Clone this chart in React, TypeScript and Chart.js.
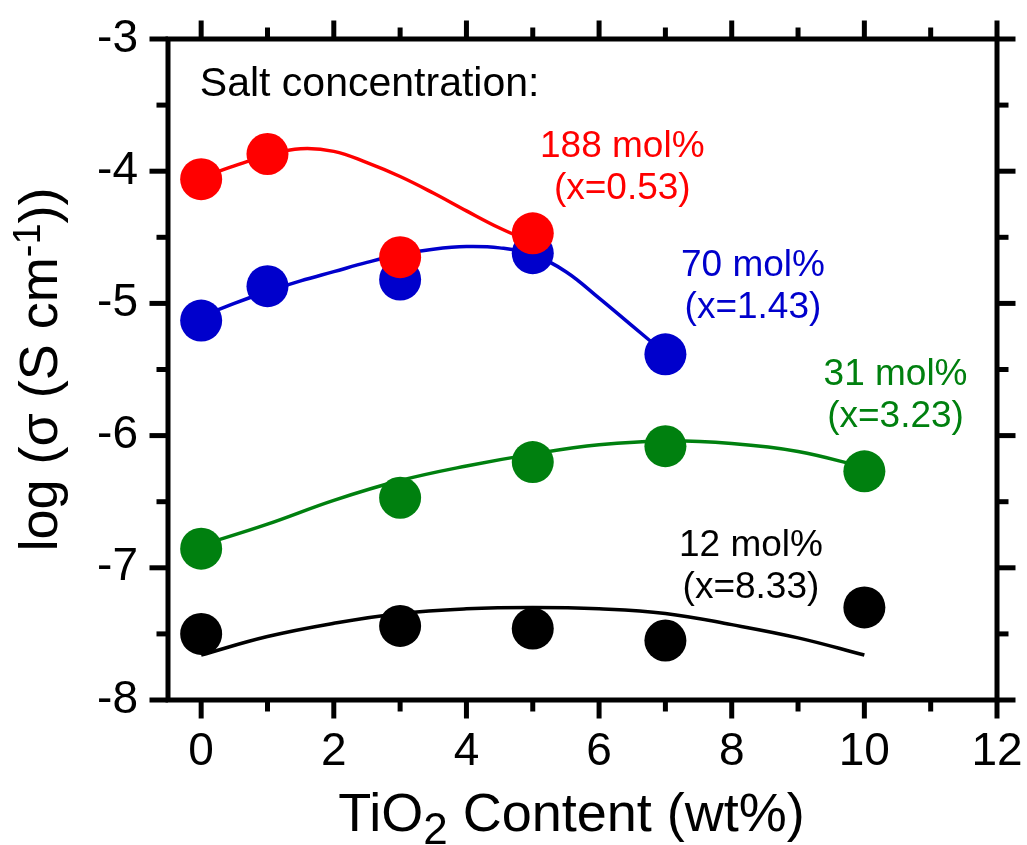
import React, { useEffect, useRef } from "react";
import { Chart, registerables } from "chart.js";

Chart.register(...registerables);

const FONT = "'Liberation Sans', Arial, Helvetica, sans-serif";

// ---- axis ticks ----
const xTickValues = [0, 2, 4, 6, 8, 10, 12];
const xMinorTicks = [1, 3, 5, 7, 9, 11];
const yTickValues = [-8, -7, -6, -5, -4, -3];
const yMinorTicks = [-7.5, -6.5, -5.5, -4.5, -3.5];

// ---- measured points: TiO2 content (wt%) vs log conductivity ----
const x188 = [0, 1, 3, 5];
const y188 = [-4.06, -3.87, -4.65, -4.47];
const x70 = [0, 1, 3, 5, 7];
const y70 = [-5.13, -4.87, -4.82, -4.62, -5.385];
const x31 = [0, 3, 5, 7, 10];
const y31 = [-6.855, -6.47, -6.2, -6.08, -6.27];
const x12 = [0, 3, 5, 7, 10];
const y12 = [-7.5, -7.44, -7.46, -7.55, -7.3];

// ---- fitted curves ----
const fit188X = [0, 0.5, 1, 1.5, 2, 2.5, 3, 3.5, 4, 4.5, 5];
const fit188Y = [-4.05, -3.96, -3.88, -3.83, -3.85, -3.935, -4.04, -4.165, -4.3, -4.43, -4.54];
const fit70X = [0, 0.5, 1, 1.5, 2, 2.5, 3, 3.5, 4, 4.5, 5, 5.5, 6, 6.5, 7];
const fit70Y = [-5.1, -5.0, -4.91, -4.83, -4.76, -4.69, -4.63, -4.59, -4.57, -4.58, -4.63, -4.76, -4.96, -5.17, -5.38];
const fit31X = [0, 1, 2, 3, 4, 5, 6, 7, 8, 9, 10];
const fit31Y = [-6.83, -6.67, -6.49, -6.34, -6.23, -6.14, -6.07, -6.04, -6.06, -6.12, -6.24];
const fit12X = [0, 1, 2, 3, 4, 5, 6, 7, 8, 9, 10];
const fit12Y = [-7.66, -7.52, -7.42, -7.345, -7.31, -7.3, -7.31, -7.345, -7.43, -7.53, -7.66];

// ---- labels ----
const seriesNames = ["188 mol%", "70 mol%", "31 mol%", "12 mol%"];
const seriesRatios = ["(x=0.53)", "(x=1.43)", "(x=3.23)", "(x=8.33)"];
const seriesColors = ["#ff0000", "#0000cc", "#00800f", "#000000"];
const headerText = "Salt concentration:";

// label anchors (data units: centre x, first-line baseline y)
const labelAnchorX = [6.35, 8.32, 10.47, 8.29];
const labelAnchorY = [-3.89, -4.79, -5.617, -6.909];
const headerAnchor = { x: -0.02, y: -3.431 };

const pts = (xs: number[], ys: number[]) => xs.map((x, i) => ({ x, y: ys[i] }));

const framePlugin = {
  id: "frameTicks",
  afterDraw(chart: any) {
    const { ctx, chartArea: a, scales } = chart;
    const xs = scales.x;
    const ys = scales.y;
    const MAJ = 18.5;
    const MIN = 11.5;
    ctx.save();
    ctx.strokeStyle = "#000";
    ctx.lineWidth = 5;
    ctx.lineCap = "butt";
    const seg = (x1: number, y1: number, x2: number, y2: number) => {
      ctx.beginPath();
      ctx.moveTo(x1, y1);
      ctx.lineTo(x2, y2);
      ctx.stroke();
    };
    const xt = (v: number, len: number) => {
      const p = xs.getPixelForValue(v);
      seg(p, a.bottom, p, a.bottom + len);
      seg(p, a.top, p, a.top - len);
    };
    const yt = (v: number, len: number) => {
      const p = ys.getPixelForValue(v);
      seg(a.left, p, a.left - len, p);
      seg(a.right, p, a.right + len, p);
    };
    xTickValues.forEach((v) => xt(v, MAJ));
    xMinorTicks.forEach((v) => xt(v, MIN));
    yTickValues.forEach((v) => yt(v, MAJ));
    yMinorTicks.forEach((v) => yt(v, MIN));
    ctx.lineJoin = "miter";
    ctx.strokeRect(a.left, a.top, a.right - a.left, a.bottom - a.top);
    ctx.restore();
  },
};

type Piece = { t: string; size: number; dy: number };

const drawPieces = (ctx: CanvasRenderingContext2D, pieces: Piece[], cx: number) => {
  let total = 0;
  const widths = pieces.map((p) => {
    ctx.font = `${p.size}px ${FONT}`;
    const w = ctx.measureText(p.t).width;
    total += w;
    return w;
  });
  let x = cx - total / 2;
  pieces.forEach((p, i) => {
    ctx.font = `${p.size}px ${FONT}`;
    ctx.fillText(p.t, x, p.dy);
    x += widths[i];
  });
};

const textPlugin = {
  id: "texts",
  afterDatasetsDraw(chart: any) {
    const { ctx, chartArea: a, scales } = chart;
    const xs = scales.x;
    const ys = scales.y;
    ctx.save();
    ctx.textBaseline = "alphabetic";

    // header
    ctx.fillStyle = "#000";
    ctx.textAlign = "left";
    ctx.font = `41px ${FONT}`;
    ctx.fillText(headerText, xs.getPixelForValue(headerAnchor.x), ys.getPixelForValue(headerAnchor.y));

    // series labels
    ctx.textAlign = "center";
    ctx.font = `37px ${FONT}`;
    seriesNames.forEach((name, i) => {
      const px = xs.getPixelForValue(labelAnchorX[i]);
      const py = ys.getPixelForValue(labelAnchorY[i]);
      ctx.fillStyle = seriesColors[i];
      ctx.fillText(name, px, py);
      ctx.fillText(seriesRatios[i], px, py + 42);
    });

    // axis titles
    ctx.fillStyle = "#000";
    ctx.textAlign = "left";
    ctx.save();
    ctx.translate(0, 831);
    drawPieces(
      ctx,
      [
        { t: "TiO", size: 54, dy: 0 },
        { t: "2", size: 44, dy: 13 },
        { t: " Content (wt%)", size: 54, dy: 0 },
      ],
      (a.left + a.right) / 2 - 11
    );
    ctx.restore();

    ctx.save();
    ctx.translate(57, (a.top + a.bottom) / 2);
    ctx.rotate(-Math.PI / 2);
    drawPieces(
      ctx,
      [
        { t: "log (σ (S cm", size: 54, dy: 0 },
        { t: "-1", size: 38, dy: -17 },
        { t: "))", size: 54, dy: 0 },
      ],
      0
    );
    ctx.restore();

    ctx.restore();
  },
};

export default function App() {
  const ref = useRef<HTMLCanvasElement>(null);

  useEffect(() => {
    document.body.style.margin = "0";
    const canvas = ref.current;
    if (!canvas) return;

    const marker = (label: string, xs: number[], ys: number[], color: string, order: number) => ({
      label,
      data: pts(xs, ys),
      backgroundColor: color,
      borderColor: color,
      pointRadius: 21,
      pointHoverRadius: 21,
      pointBorderWidth: 0,
      showLine: false,
      order,
    });
    const fit = (label: string, xs: number[], ys: number[], color: string, order: number) => ({
      label,
      data: pts(xs, ys),
      borderColor: color,
      backgroundColor: color,
      borderWidth: 3.5,
      pointRadius: 0,
      pointHoverRadius: 0,
      showLine: true,
      fill: false,
      tension: 0.4,
      order,
    });

    const chart = new Chart(canvas, {
      type: "scatter",
      data: {
        datasets: [
          marker(seriesNames[0], x188, y188, seriesColors[0], 1),
          fit(seriesNames[0] + " fit", fit188X, fit188Y, seriesColors[0], 2),
          marker(seriesNames[1], x70, y70, seriesColors[1], 3),
          fit(seriesNames[1] + " fit", fit70X, fit70Y, seriesColors[1], 4),
          marker(seriesNames[2], x31, y31, seriesColors[2], 5),
          fit(seriesNames[2] + " fit", fit31X, fit31Y, seriesColors[2], 6),
          marker(seriesNames[3], x12, y12, seriesColors[3], 7),
          fit(seriesNames[3] + " fit", fit12X, fit12Y, seriesColors[3], 8),
        ] as any,
      },
      options: {
        responsive: false,
        animation: false,
        events: [],
        devicePixelRatio: 1,
        layout: { padding: { top: 39, right: 30, left: 0, bottom: 0 } },
        plugins: {
          legend: { display: false },
          tooltip: { enabled: false },
          title: { display: false },
        },
        scales: {
          x: {
            type: "linear",
            position: "bottom",
            min: -0.5,
            max: 12,
            afterBuildTicks: (s: any) => {
              s.ticks = xTickValues.map((value) => ({ value }));
            },
            afterFit: (s: any) => {
              s.height = 145;
            },
            grid: { display: false, drawTicks: true, tickLength: 22 },
            border: { display: false },
            ticks: {
              padding: 3,
              color: "#000",
              maxRotation: 0,
              autoSkip: false,
              font: { family: FONT, size: 46 },
              callback: (v: any) => String(v),
            },
          },
          y: {
            type: "linear",
            position: "left",
            min: -8,
            max: -3,
            afterBuildTicks: (s: any) => {
              s.ticks = yTickValues.map((value) => ({ value }));
            },
            afterFit: (s: any) => {
              s.width = 168;
            },
            grid: { display: false, drawTicks: true, tickLength: 27 },
            border: { display: false },
            ticks: {
              padding: 3,
              color: "#000",
              autoSkip: false,
              font: { family: FONT, size: 46 },
              callback: (v: any) => String(v),
            },
          },
        },
      } as any,
      plugins: [textPlugin, framePlugin],
    });

    return () => chart.destroy();
  }, []);

  return (
    <div style={{ position: "absolute", left: 0, top: 0, width: 1027, height: 845, background: "#fff" }}>
      <canvas ref={ref} width={1027} height={845} style={{ width: 1027, height: 845, display: "block" }} />
    </div>
  );
}
